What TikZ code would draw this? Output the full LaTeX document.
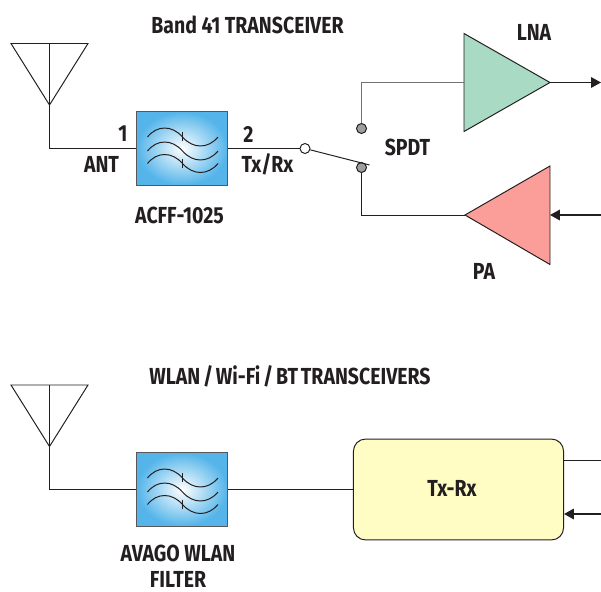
\documentclass[tikz,border=0pt]{standalone}
\usepackage{fontspec}
\setmainfont[FakeStretch=0.84]{Fira Sans}
\newfontfamily\tightfont[FakeStretch=0.84, WordSpace=0.6]{Fira Sans}
\usetikzlibrary{arrows.meta}
\definecolor{inkdark}{HTML}{231F20}
\definecolor{filterblue}{HTML}{55B5EA}
\definecolor{lnagreen}{HTML}{A9DBC4}
\definecolor{pared}{HTML}{FB9E99}
\definecolor{boxyellow}{HTML}{FFFDC4}
\def\antenna(#1,#2){\draw[wire] (#1-38.5, #2) -- (#1+38.5, #2) -- (#1, #2+61.5) -- cycle (#1, #2) -- (#1, #2+61.5);}
\def\filterwaves(#1){
	\begin{scope}[shift={(#1)}]
		\foreach \dy in {-11.5, 2.5, 15} {
			\draw[wire] (-34.5, \dy) .. controls (-25, \dy-12) and (-10, \dy-12) .. (0.5, \dy) .. controls (11, \dy+12) and (26, \dy+12) .. (36, \dy);
		}
		\draw[wire] (0.5, -16.5) -- (0.5, -7.5);
		\draw[wire] (0.5, 10.5) -- (0.5, 19.5);
	\end{scope}
}
\tikzset{
	wire/.style={line width=0.7pt, color=inkdark},
	fatwire/.style={line width=1.1pt, color=inkdark},
	tipped/.style={-{Triangle[length=7pt, width=7.5pt]}},
	filterbox/.style={draw=inkdark!75, line width=0.7pt, inner color=white, outer color=filterblue, minimum width=2.25cm, minimum height=1.825cm, inner sep=0pt},
	contact/.style={circle, draw=inkdark, line width=0.7pt, fill=black!38, minimum size=0.25cm, inner sep=0pt},
	pole/.style={circle, draw=inkdark, line width=0.7pt, fill=white, minimum size=0.25cm, inner sep=0pt},
	lab/.style={font=\bfseries\fontsize{16.5}{20}\selectfont, text=inkdark, inner sep=0pt, align=center}
}
\begin{document}
\begin{tikzpicture}[x=0.025cm, y=-0.025cm]
	%%%%% START %%%%%
	\useasboundingbox (0, 0) rectangle (601, 592);
	
	\node[lab] (title1) at (247.5, 25) {Band 41 TRANSCEIVER};
	\antenna(49.5, 43.5);
	\coordinate (ant1) at (49.5, 105);
	
	\node[filterbox] (filt1) at (182, 148.5) {};
	\filterwaves(filt1);
	\draw[wire] (ant1) |- (filt1.west);
	
	\node[lab] (port1) at (123, 134) {1};
	\node[lab] (ant1lab) at (101.5, 164) {ANT};
	\node[lab] (port2) at (248.5, 134) {2};
	\node[lab] (txrx) at (267.5, 164) {Tx/Rx};
	\node[lab] (acff) at (179.5, 215) {ACFF-1025};
	
	\node[pole] (swcom) at (305, 148.5) {};
	\node[contact] (swup) at (361.5, 128.5) {};
	\node[contact] (swdn) at (361.5, 167.5) {};
	\coordinate (armend) at (369.5, 165);
	\draw[wire] (filt1.east) -- (swcom);
	\draw[wire] (swcom) -- (armend);
	\node[lab] (spdt) at (407.5, 147.5) {SPDT};
	
	\coordinate (lnain) at (464, 82.5);
	\coordinate (lnaout) at (550, 82.5);
	\coordinate (lnaend) at (601, 82.5);
	\draw[wire, fill=lnagreen] (464, 33.5) -- (lnaout) -- (464, 131.5) -- cycle;
	\draw[wire, color=black!55] (swup) |- (lnain);
	\draw[wire, tipped] (lnaout) -- (lnaend);
	\node[lab] (lna) at (534, 32) {LNA};
	
	\coordinate (paout) at (465, 215);
	\coordinate (pain) at (550, 215);
	\coordinate (paend) at (601, 215);
	\draw[wire, fill=pared] (paout) -- (550, 166) -- (550, 264.5) -- cycle;
	\draw[wire] (swdn) |- (paout);
	\draw[fatwire, tipped] (paend) -- (pain);
	\node[lab] (pa) at (484, 271) {PA};
	
	\node[lab] (title2) at (290, 376) {\tightfont\bfseries WLAN / Wi-Fi / BT TRANSCEIVERS};
	\antenna(49.5, 385);
	\coordinate (ant2) at (49.5, 446.5);
	
	\node[filterbox] (filt2) at (182, 489.5) {};
	\filterwaves(filt2);
	\draw[wire] (ant2) |- (filt2.west);
	\node[lab] (avago) at (178, 553) {AVAGO WLAN};
	\node[lab] (filtlab) at (178, 579.5) {FILTER};
	
	\node[draw=inkdark, line width=0.7pt, fill=boxyellow, rounded corners=0.3cm, minimum width=5.25cm, minimum height=2.52cm, inner sep=0pt] (txrxbox) at (458.5, 489.5) {};
	\node[lab] (txrxtext) at (452, 488.5) {Tx-Rx};
	\draw[wire] (filt2.east) -- (txrxbox.west);
	
	\coordinate (rxend) at (601, 460.5);
	\coordinate (txend) at (601, 514);
	\draw[fatwire] (txrxbox.east |- rxend) -- (rxend);
	\draw[fatwire, tipped] (txend) -- (txrxbox.east |- txend);
	%%%%% END %%%%%
\end{tikzpicture}
\end{document}
